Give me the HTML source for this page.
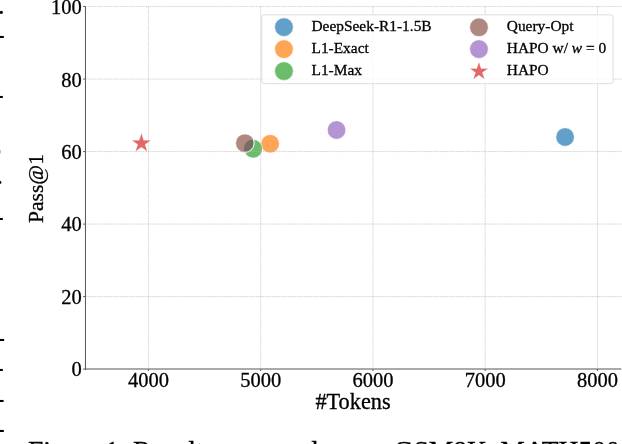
<!DOCTYPE html>
<html lang="en"><head><meta charset="utf-8"><title>Figure 1</title>
<style>html,body{margin:0;padding:0;background:#fff;}body{width:622px;height:444px;overflow:hidden;}svg{display:block;}text{font-family:"Liberation Serif",serif;fill:#000;stroke:#000;stroke-width:0.3px;}</style></head><body>
<svg width="622" height="444" viewBox="0 0 622 444">
<rect width="622" height="444" fill="#fff"/>
<g stroke="#545454" stroke-width="1.0" fill="none">
<line x1="85.45" y1="6.25" x2="85.45" y2="369.70"/>
<line x1="84.95" y1="369.00" x2="621.3" y2="369.00"/>
</g>
<g stroke="#444" stroke-width="0.9" fill="none">
<line x1="148.45" y1="369.10" x2="148.45" y2="371.00"/>
<line x1="260.70" y1="369.10" x2="260.70" y2="371.00"/>
<line x1="372.95" y1="369.10" x2="372.95" y2="371.00"/>
<line x1="485.20" y1="369.10" x2="485.20" y2="371.00"/>
<line x1="597.45" y1="369.10" x2="597.45" y2="371.00"/>
<line x1="83.15" y1="369.10" x2="85.45" y2="369.10"/>
<line x1="83.15" y1="296.59" x2="85.45" y2="296.59"/>
<line x1="83.15" y1="224.08" x2="85.45" y2="224.08"/>
<line x1="83.15" y1="151.57" x2="85.45" y2="151.57"/>
<line x1="83.15" y1="79.06" x2="85.45" y2="79.06"/>
<line x1="83.15" y1="6.55" x2="85.45" y2="6.55"/>
</g>
<g font-size="20.5">
<text x="148.55" y="387.2" text-anchor="middle">4000</text>
<text x="260.80" y="387.2" text-anchor="middle">5000</text>
<text x="373.05" y="387.2" text-anchor="middle">6000</text>
<text x="485.30" y="387.2" text-anchor="middle">7000</text>
<text x="597.55" y="387.2" text-anchor="middle">8000</text>
<text x="81.8" y="376" text-anchor="end">0</text>
<text x="81.8" y="304" text-anchor="end">20</text>
<text x="81.8" y="231" text-anchor="end">40</text>
<text x="81.8" y="159" text-anchor="end">60</text>
<text x="81.8" y="87" text-anchor="end">80</text>
<text x="81.8" y="14" text-anchor="end">100</text>
</g>
<text x="353" y="408.7" font-size="22.3" text-anchor="middle">#Tokens</text>
<text transform="translate(43.4,188.5) rotate(-90)" font-size="21.5" text-anchor="middle">Pass@1</text>
<circle cx="565.10" cy="137.00" r="9.25" fill="#1f77b4" fill-opacity="0.7" stroke="#fff" stroke-opacity="0.7" stroke-width="0.8"/>
<circle cx="270.15" cy="143.75" r="9.25" fill="#ff7f0e" fill-opacity="0.7" stroke="#fff" stroke-opacity="0.7" stroke-width="0.8"/>
<circle cx="253.20" cy="148.80" r="9.25" fill="#2ca02c" fill-opacity="0.7" stroke="#fff" stroke-opacity="0.7" stroke-width="0.8"/>
<circle cx="244.90" cy="143.15" r="9.25" fill="#8c564b" fill-opacity="0.7" stroke="#fff" stroke-opacity="0.7" stroke-width="0.8"/>
<clipPath id="cb"><circle cx="244.9" cy="143.15" r="8.85"/></clipPath>
<circle cx="253.2" cy="148.8" r="9.25" fill="#756e68" clip-path="url(#cb)"/>
<clipPath id="cg"><circle cx="253.2" cy="148.8" r="9.6"/></clipPath>
<circle cx="244.9" cy="143.15" r="9.2" fill="none" stroke="#fff" stroke-opacity="0.75" stroke-width="1.1" clip-path="url(#cg)"/>
<circle cx="336.55" cy="130.00" r="9.25" fill="#9467bd" fill-opacity="0.7" stroke="#fff" stroke-opacity="0.7" stroke-width="0.8"/>
<polygon points="141.40,133.10 143.69,140.15 151.10,140.15 145.11,144.50 147.40,151.55 141.40,147.20 135.40,151.55 137.69,144.50 131.70,140.15 139.11,140.15" fill="#d62728" fill-opacity="0.7" stroke="#fff" stroke-opacity="0.7" stroke-width="0.45"/>
<g stroke="#b4b4b4" stroke-opacity="0.6" stroke-width="0.9" stroke-dasharray="1.6 0.7" fill="none">
<line x1="148.45" y1="6.55" x2="148.45" y2="369.10"/>
<line x1="260.70" y1="6.55" x2="260.70" y2="369.10"/>
<line x1="372.95" y1="6.55" x2="372.95" y2="369.10"/>
<line x1="485.20" y1="6.55" x2="485.20" y2="369.10"/>
<line x1="597.45" y1="6.55" x2="597.45" y2="369.10"/>
<line x1="85.45" y1="296.59" x2="622" y2="296.59"/>
<line x1="85.45" y1="224.08" x2="622" y2="224.08"/>
<line x1="85.45" y1="151.57" x2="622" y2="151.57"/>
<line x1="85.45" y1="79.06" x2="622" y2="79.06"/>
<line x1="85.45" y1="6.55" x2="622" y2="6.55"/>
</g>
<rect x="261.8" y="14.8" width="351.2" height="68.9" rx="2.5" ry="2.5" fill="#fff" fill-opacity="0.8" stroke="#d9d9d9" stroke-opacity="0.9" stroke-width="1"/>
<circle cx="283.95" cy="27.15" r="9.30" fill="#1f77b4" fill-opacity="0.7" stroke="#fff" stroke-opacity="0.7" stroke-width="0.8"/>
<circle cx="283.95" cy="49.10" r="9.30" fill="#ff7f0e" fill-opacity="0.7" stroke="#fff" stroke-opacity="0.7" stroke-width="0.8"/>
<circle cx="283.95" cy="71.10" r="9.30" fill="#2ca02c" fill-opacity="0.7" stroke="#fff" stroke-opacity="0.7" stroke-width="0.8"/>
<circle cx="478.95" cy="27.30" r="9.30" fill="#8c564b" fill-opacity="0.7" stroke="#fff" stroke-opacity="0.7" stroke-width="0.8"/>
<circle cx="478.95" cy="49.10" r="9.30" fill="#9467bd" fill-opacity="0.7" stroke="#fff" stroke-opacity="0.7" stroke-width="0.8"/>
<polygon points="478.95,61.75 481.13,68.45 488.18,68.45 482.47,72.59 484.65,79.30 478.95,75.16 473.25,79.30 475.43,72.59 469.72,68.45 476.77,68.45" fill="#d62728" fill-opacity="0.7" stroke="#fff" stroke-opacity="0.7" stroke-width="0.45"/>
<g font-size="15.4">
<text x="311.50" y="31.00">DeepSeek-R1-1.5B</text>
<text x="311.50" y="52.90">L1-Exact</text>
<text x="311.50" y="74.80">L1-Max</text>
<text x="506.80" y="31.00">Query-Opt</text>
<text x="506.80" y="53.00">HAPO w/ <tspan font-style="italic">w</tspan> = 0</text>
<text x="506.80" y="74.80">HAPO</text>
</g>
<text y="460.0" font-size="27.6"><tspan x="28.0">Figure</tspan> <tspan x="105.0">1:</tspan> <tspan x="133.0">Results</tspan> <tspan x="218.5">averaged</tspan> <tspan x="324.5">across</tspan> <tspan x="393.5">GSM8K,</tspan> <tspan x="500.3">MATH500</tspan></text>
<text x="-3.92" y="43.12" font-size="26.4" style="stroke-width:0.1px">-</text>
<text x="-4.92" y="103.27" font-size="26.4" style="stroke-width:0.1px">-</text>
<text x="-4.92" y="225.27" font-size="26.4" style="stroke-width:0.1px">-</text>
<text x="-3.82" y="346.07" font-size="26.4" style="stroke-width:0.1px">-</text>
<text x="-4.92" y="376.07" font-size="26.4" style="stroke-width:0.1px">-</text>
<text x="-4.32" y="406.87" font-size="26.4" style="stroke-width:0.1px">-</text>
<text x="-4.12" y="437.17" font-size="26.4" style="stroke-width:0.1px">-</text>
<text x="-1.98" y="13.59" font-size="26.4" style="stroke-width:0.1px">.</text>
<text x="-3.48" y="184.29" font-size="26.4" style="stroke-width:0.1px">.</text>
<text x="-8.35" y="163" font-size="26.4" style="stroke:none;fill:#444">r</text>
</svg></body></html>
